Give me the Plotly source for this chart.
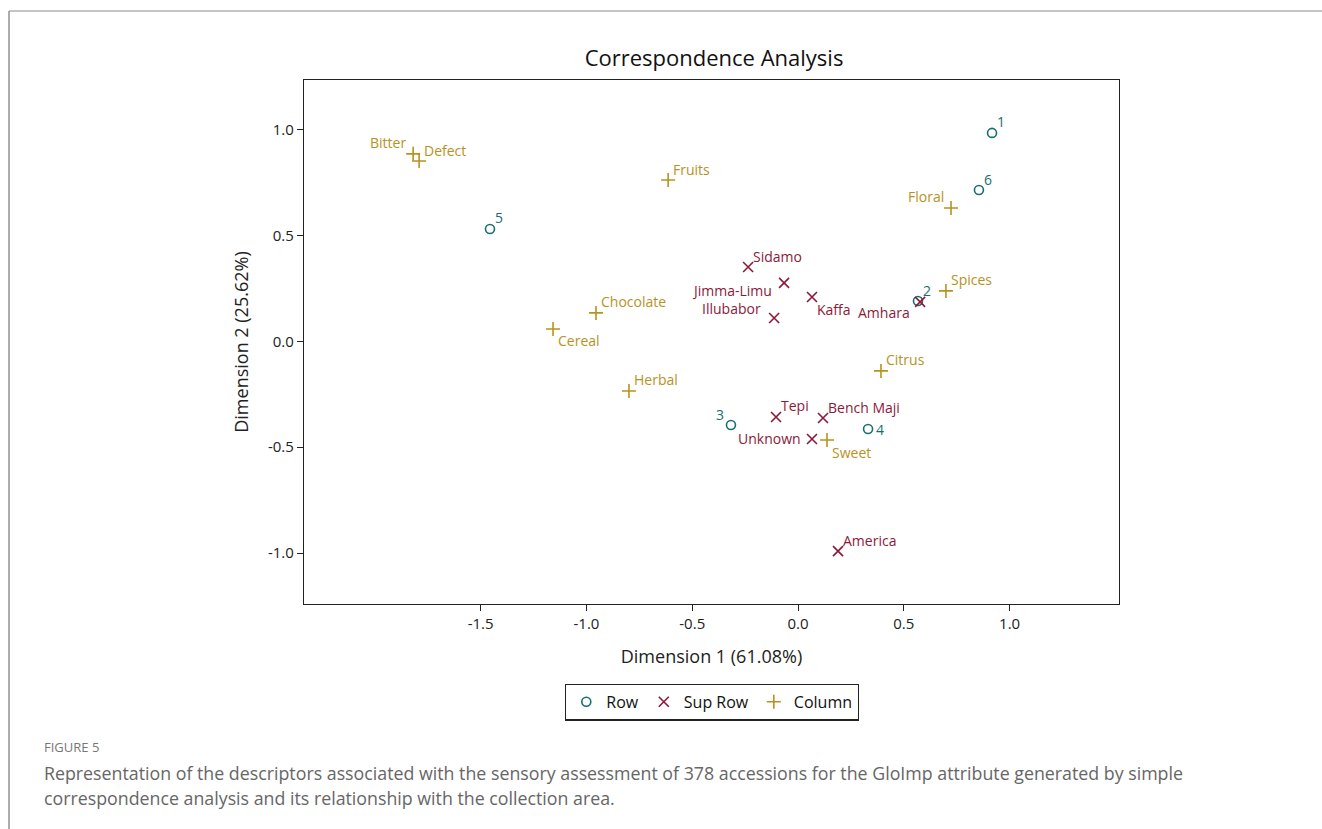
import plotly.graph_objects as go

# Active row points (profiles 1-6)
row_labels = ["1", "6", "5", "2", "3", "4"]
row_dim1 = [0.917, 0.855, -1.456, 0.567, -0.317, 0.331]
row_dim2 = [0.986, 0.716, 0.532, 0.191, -0.395, -0.414]
row_pos = ["tr", "tr", "tr", "tr", "tl", "r"]

# Supplementary rows (collection areas)
sup_labels = ["Sidamo", "Jimma-Limu", "Kaffa", "Illubabor", "Amhara",
              "Tepi", "Bench Maji", "Unknown", "America"]
sup_dim1 = [-0.236, -0.066, 0.066, -0.113, 0.577, -0.104, 0.118, 0.066, 0.189]
sup_dim2 = [0.352, 0.277, 0.210, 0.111, 0.187, -0.357, -0.362, -0.461, -0.991]
sup_pos = ["tr", "bl_tight", "br", "tl_tight", "bl", "tr", "tr", "l", "tr"]

# Column points (sensory descriptors)
col_labels = ["Bitter", "Defect", "Fruits", "Floral", "Spices", "Chocolate",
              "Cereal", "Citrus", "Herbal", "Sweet"]
col_dim1 = [-1.819, -1.791, -0.614, 0.723, 0.699, -0.955, -1.158, 0.392, -0.799, 0.137]
col_dim2 = [0.887, 0.853, 0.763, 0.631, 0.239, 0.135, 0.059, -0.139, -0.234, -0.466]
col_pos = ["tl", "tr", "tr", "tl", "tr", "tr", "br", "tr", "tr", "br"]

x_ticks = [-1.5, -1.0, -0.5, 0.0, 0.5, 1.0]
y_ticks = [-1.0, -0.5, 0.0, 0.5, 1.0]

TEAL = "#17706f"
CRIMSON = "#8e1838"
GOLD = "#b8921e"
FONT = "Open Sans"

W, H = 1322, 829
ML, MR, MT, MB = 304, 203, 80, 225
PW, PH = W - ML - MR, H - MT - MB

# label placement around a marker: (xanchor, xshift, yshift)
PLACEMENT = {
    "tr": ("left", 4, 11),
    "tl": ("right", -6, 11),
    "br": ("left", 4, -12),
    "bl": ("right", -9, -11),
    "r": ("left", 7, 0),
    "l": ("right", -10, 0),
    "bl_tight": ("right", -11, -8),
    "tl_tight": ("right", -12, 9),
}


def px_to_paper_x(px):
    return (px - ML) / PW


def px_to_paper_y(py):
    return (H - MB - py) / PH


fig = go.Figure()

fig.add_trace(go.Scatter(
    x=row_dim1, y=row_dim2, mode="markers", name="Row",
    marker=dict(symbol="circle-open", size=9, color=TEAL, line=dict(width=1.6, color=TEAL)),
))
fig.add_trace(go.Scatter(
    x=sup_dim1, y=sup_dim2, mode="markers", name="Sup Row",
    marker=dict(symbol="x-thin-open", size=10, color=CRIMSON, line=dict(width=1.6, color=CRIMSON)),
))
fig.add_trace(go.Scatter(
    x=col_dim1, y=col_dim2, mode="markers", name="Column",
    marker=dict(symbol="cross-thin-open", size=10, color=GOLD, line=dict(width=1.6, color=GOLD)),
))

# point labels
for labels, xs, ys, poss, color in [
    (row_labels, row_dim1, row_dim2, row_pos, TEAL),
    (sup_labels, sup_dim1, sup_dim2, sup_pos, CRIMSON),
    (col_labels, col_dim1, col_dim2, col_pos, GOLD),
]:
    for lab, x, y, p in zip(labels, xs, ys, poss):
        xa, dx, dy = PLACEMENT[p]
        fig.add_annotation(x=x, y=y, text=lab, showarrow=False, borderpad=0,
                           xanchor=xa, yanchor="middle", xshift=dx, yshift=dy,
                           font=dict(family=FONT, size=14, color=color))

axis_common = dict(
    showgrid=False, zeroline=False, showline=True, linecolor="#222", linewidth=1.3,
    mirror=True, ticks="outside", ticklen=6, tickcolor="#222",
    tickfont=dict(family=FONT, size=15, color="#222"),
)

fig.update_layout(
    width=W, height=H,
    margin=dict(l=ML, r=MR, t=MT, b=MB),
    paper_bgcolor="white", plot_bgcolor="white",
    title=dict(text="Correspondence Analysis", x=px_to_paper_x(714), xref="paper",
               y=1 - 58 / H, yanchor="middle", xanchor="center",
               font=dict(family=FONT, size=22, color="#111")),
    xaxis=dict(range=[-2.335, 1.517], tickvals=x_ticks,
               ticktext=[f"{v:.1f}" for v in x_ticks],
               title=dict(text="Dimension 1 (61.08%)", standoff=18,
                          font=dict(family=FONT, size=18, color="#222")),
               **axis_common),
    yaxis=dict(range=[-1.241, 1.236], tickvals=y_ticks,
               ticktext=[f"{v:.1f}" for v in y_ticks],
               title=dict(text="Dimension 2 (25.62%)", standoff=14,
                          font=dict(family=FONT, size=18, color="#222")),
               **axis_common),
    legend=dict(orientation="h", x=px_to_paper_x(712), xanchor="center",
                y=px_to_paper_y(702), yanchor="middle",
                bordercolor="#222", borderwidth=1.3,
                font=dict(family=FONT, size=16, color="#111"),
                itemwidth=30, tracegroupgap=0),
    showlegend=True,
)

# Card border (top and left edges) around the figure
fig.add_shape(type="line", xref="paper", yref="paper",
              x0=px_to_paper_x(9), x1=px_to_paper_x(1322),
              y0=px_to_paper_y(11), y1=px_to_paper_y(11),
              line=dict(color="#b0b0b0", width=1.5))
fig.add_shape(type="line", xref="paper", yref="paper",
              x0=px_to_paper_x(9), x1=px_to_paper_x(9),
              y0=px_to_paper_y(11), y1=px_to_paper_y(829),
              line=dict(color="#909090", width=1.5))

# Figure caption
fig.add_annotation(text="FIGURE 5", xref="paper", yref="paper",
                   x=px_to_paper_x(42), y=px_to_paper_y(747),
                   xanchor="left", yanchor="middle", showarrow=False,
                   font=dict(family=FONT, size=13, color="#777"))
caption_lines = [
    "Representation of the descriptors associated with the sensory assessment of 378 accessions for the GloImp attribute generated by simple",
    "correspondence analysis and its relationship with the collection area.",
]
for line, py in zip(caption_lines, [773, 798]):
    fig.add_annotation(text=line, xref="paper", yref="paper",
                       x=px_to_paper_x(42), y=px_to_paper_y(py),
                       xanchor="left", yanchor="middle", align="left", showarrow=False,
                       font=dict(family=FONT, size=17.8, color="#666"))

fig.write_html("out.html")
